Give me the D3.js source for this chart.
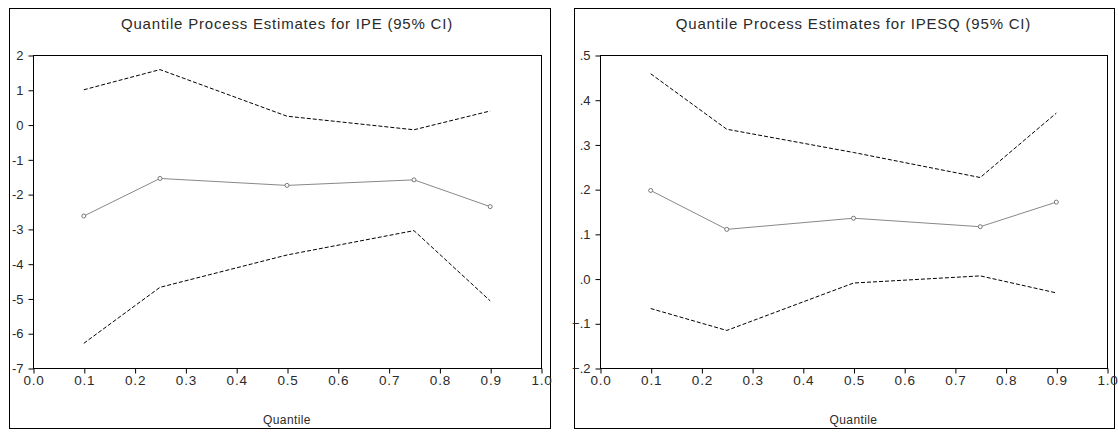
<!DOCTYPE html>
<html>
<head>
<meta charset="utf-8">
<script src="https://cdn.jsdelivr.net/npm/d3@7"></script>
<style>
  html, body { margin: 0; padding: 0; background: #fff; }
  svg { display: block; }
  text { font-family: "Liberation Sans", Arial, sans-serif; fill: #2a2a2a; }
</style>
</head>
<body>
<svg id="chart" width="1118" height="432"></svg>
<script>
// ---- Data ----
const quantiles = [0.1, 0.25, 0.5, 0.75, 0.9];
const xTicks = [0.0, 0.1, 0.2, 0.3, 0.4, 0.5, 0.6, 0.7, 0.8, 0.9, 1.0];

const ipeEstimate = [-2.63, -1.55, -1.75, -1.59, -2.36];
const ipeUpper    = [1.00, 1.58, 0.24, -0.15, 0.39];
const ipeLower    = [-6.29, -4.68, -3.75, -3.05, -5.07];
const ipeTicks    = [2, 1, 0, -1, -2, -3, -4, -5, -6, -7];

const ipesqEstimate = [0.197, 0.110, 0.135, 0.116, 0.171];
const ipesqUpper    = [0.458, 0.334, 0.282, 0.226, 0.370];
const ipesqLower    = [-0.067, -0.116, -0.010, 0.006, -0.032];
const ipesqTicks    = [0.5, 0.4, 0.3, 0.2, 0.1, 0.0, -0.1, -0.2];

const titles = ["Quantile Process Estimates for IPE (95% CI)",
                "Quantile Process Estimates for IPESQ (95% CI)"];
const xTitle = "Quantile";

// ---- Drawing ----
const svg = d3.select("#chart");

function fmtLeft(d) { return String(d); }
function fmtRight(d) {
  if (Math.abs(d) < 1e-9) return ".0";
  return d3.format(".1f")(d).replace("0.", ".");
}

function panel(cfg) {
  const g = svg.append("g");
  g.append("rect")
    .attr("x", cfg.outer[0] + 0.5).attr("y", cfg.outer[1] + 0.5)
    .attr("width", cfg.outer[2] - cfg.outer[0]).attr("height", cfg.outer[3] - cfg.outer[1])
    .attr("fill", "#fff").attr("stroke", "#000").attr("stroke-width", 1);

  const x = d3.scaleLinear().domain([0, 1]).range([cfg.plot[0], cfg.plot[2]]);
  const y = d3.scaleLinear().domain(cfg.yDomain).range([cfg.plot[3], cfg.plot[1]]);

  g.append("rect")
    .attr("x", cfg.plot[0] + 0.5).attr("y", cfg.plot[1] + 0.5)
    .attr("width", cfg.plot[2] - cfg.plot[0]).attr("height", cfg.plot[3] - cfg.plot[1])
    .attr("fill", "none").attr("stroke", "#000").attr("stroke-width", 1);

  const xAxis = d3.axisBottom(x).tickValues(xTicks).tickFormat(d3.format(".1f"))
    .tickSizeInner(5).tickSizeOuter(0).tickPadding(2);
  const gx = g.append("g").attr("transform", `translate(0.5,${cfg.plot[3] + 0.5})`).call(xAxis);
  gx.attr("font-size", null).attr("font-family", null);
  gx.select(".domain").remove();
  gx.selectAll("line").attr("stroke", "#000");
  gx.selectAll("text").attr("fill", "#2a2a2a")
    .style("font-size", "13.5px").style("letter-spacing", "0.8px");

  const yAxis = d3.axisLeft(y).tickValues(cfg.yTicks).tickFormat(cfg.fmt)
    .tickSizeInner(5).tickSizeOuter(0).tickPadding(5);
  const gy = g.append("g").attr("transform", `translate(${cfg.plot[0] + 0.5},0.5)`).call(yAxis);
  gy.attr("font-size", null).attr("font-family", null);
  gy.select(".domain").remove();
  gy.selectAll("line").attr("stroke", "#000");
  gy.selectAll("text").attr("fill", "#2a2a2a")
    .style("font-size", "13px");

  const line = d3.line().x((d, i) => x(quantiles[i])).y(d => y(d));

  g.append("path").datum(cfg.upper).attr("d", line)
    .attr("fill", "none").attr("stroke", "#000").attr("stroke-width", 1)
    .attr("stroke-dasharray", "4,2");
  g.append("path").datum(cfg.lower).attr("d", line)
    .attr("fill", "none").attr("stroke", "#000").attr("stroke-width", 1)
    .attr("stroke-dasharray", "4,2");
  g.append("path").datum(cfg.est).attr("d", line)
    .attr("fill", "none").attr("stroke", "#888").attr("stroke-width", 1);
  g.selectAll("circle.pt").data(cfg.est).enter().append("circle")
    .attr("class", "pt")
    .attr("cx", (d, i) => x(quantiles[i])).attr("cy", d => y(d))
    .attr("r", 2).attr("fill", "#fff").attr("stroke", "#777").attr("stroke-width", 1);

  const cx = (cfg.plot[0] + cfg.plot[2]) / 2;
  g.append("text").attr("x", cx).attr("y", 29).attr("text-anchor", "middle")
    .style("font-size", "15px").style("letter-spacing", "0.8px").text(cfg.title);
  g.append("text").attr("x", cx).attr("y", 424).attr("text-anchor", "middle")
    .style("font-size", "12px").style("letter-spacing", "0.4px").text(xTitle);
}

panel({
  outer: [9, 8, 550, 428], plot: [33, 55, 541, 368],
  yDomain: [-7, 2], yTicks: ipeTicks, fmt: fmtLeft,
  est: ipeEstimate, upper: ipeUpper, lower: ipeLower, title: titles[0]
});
panel({
  outer: [574, 8, 1114, 428], plot: [600, 55, 1107, 368],
  yDomain: [-0.2, 0.5], yTicks: ipesqTicks, fmt: fmtRight,
  est: ipesqEstimate, upper: ipesqUpper, lower: ipesqLower, title: titles[1]
});
</script>
</body>
</html>
